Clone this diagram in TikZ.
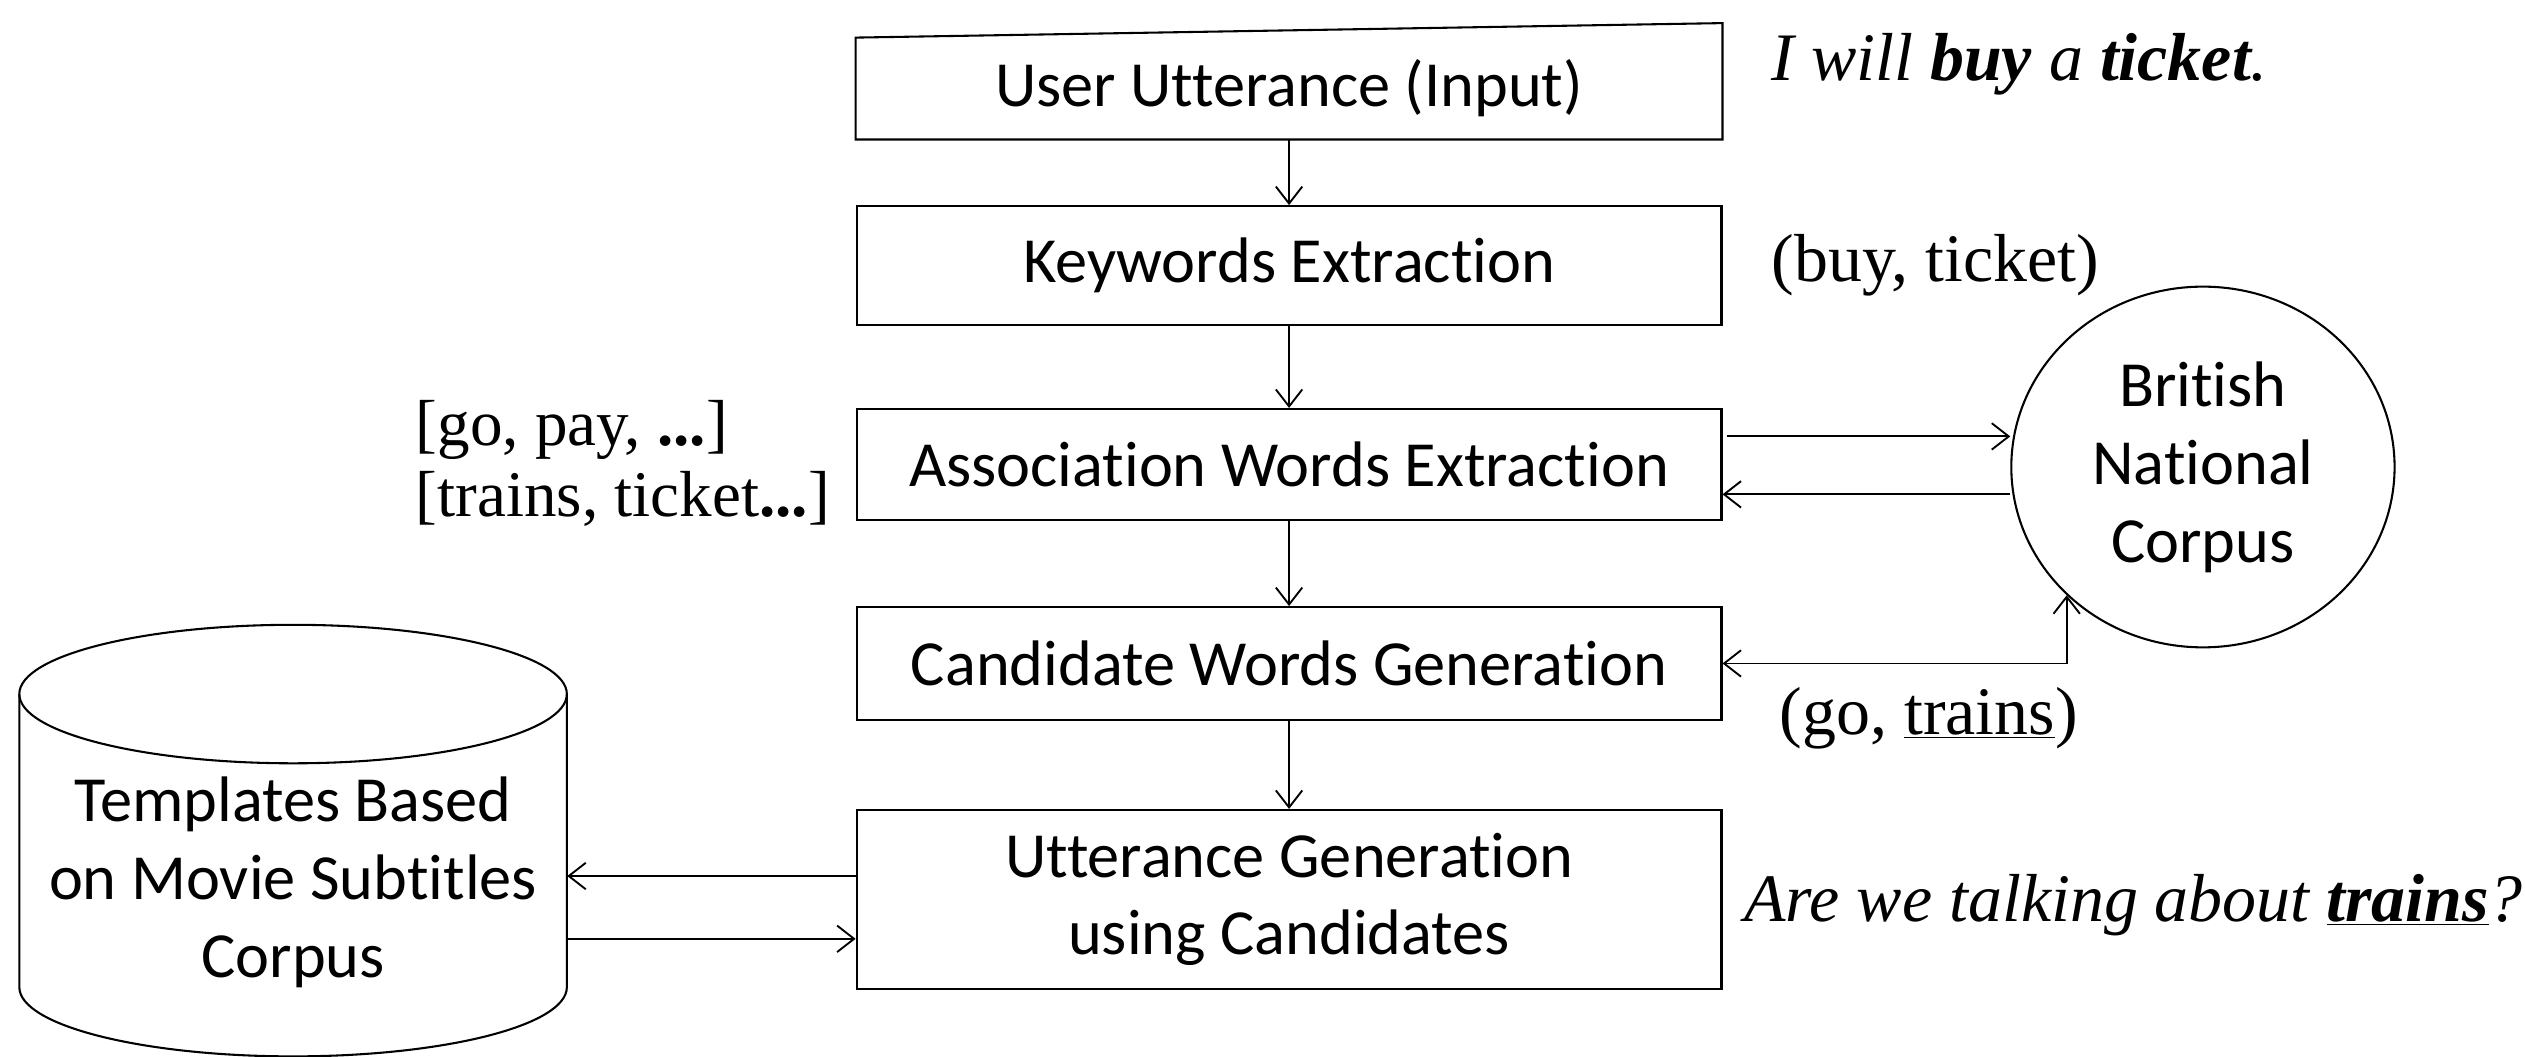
\documentclass[tikz,border=0pt]{standalone}
\usepackage{fontspec}
\setmainfont{Carlito}[Ligatures={NoCommon}]
\newfontfamily\annfont{Liberation Serif}
\usetikzlibrary{arrows.meta,shapes.geometric,calc}

\newcommand\boxfont{\fontsize{34.1}{41.3}\selectfont}
\newcommand\annsize{\annfont\fontsize{36}{37.5}\selectfont}
\newcommand\listsize{\annfont\fontsize{34.5}{37.5}\selectfont}

\tikzset{
  outline/.style={line width=1.1pt},
  flowbox/.style={draw, rectangle, outline, minimum width=16.11cm, inner sep=0pt,
    align=center, font=\boxfont},
  store/.style={draw, ellipse, outline, inner sep=0pt, align=center, font=\boxfont},
  anntext/.style={font=\annsize, inner sep=0pt},
  arr/.style={line width=1pt, -{Straight Barb[length=9pt,width=14pt,line width=1pt]}},
  biarr/.style={line width=1pt, {Straight Barb[length=9pt,width=14pt,line width=1pt]}-{Straight Barb[length=9pt,width=14pt,line width=1pt]}}
}

\begin{document}
\begin{tikzpicture}[x=0.03cm,y=-0.03cm]
\fill[white] (0,0) rectangle (1568,656);
\useasboundingbox (0,0) rectangle (1568,656);

% processing pipeline
\node[flowbox, draw=none, minimum height=1.86cm] (inp) at (800.5,55) {User Utterance (Input)};
\draw[outline] (inp.south west) -- (inp.south east) -- ($(inp.north east)+(0,-9)$)
  -- (inp.north west) -- cycle;
\node[flowbox, minimum height=2.22cm] (kw) at (800.5,165) {Keywords Extraction};
\node[flowbox, minimum height=2.07cm] (assoc) at (800.5,288.5) {Association Words Extraction};
\node[flowbox, minimum height=2.1cm] (cand) at (800.5,412) {Candidate Words Generation};
\node[flowbox, minimum height=3.33cm] (gen) at (800.5,558.5) {Utterance Generation\\using Candidates};

\draw[arr] (inp.south) -- (kw.north);
\draw[arr] (kw.south) -- (assoc.north);
\draw[arr] (assoc.south) -- (cand.north);
\draw[arr] (cand.south) -- (gen.north);

% British National Corpus
\node[store, minimum width=7.14cm, minimum height=6.72cm] (bnc) at (1368,290) {British\\National\\Corpus};
\coordinate (a1) at ($(assoc.east)+(3,-17.5)$);
\coordinate (a2) at ($(assoc.east)+(0,18.5)$);
\draw[arr] (a1) -- (a1 -| bnc.west);
\draw[arr] (a2 -| bnc.west) -- (a2);
\draw[biarr] (bnc.south west) |- (cand.east);

% template database (cylinder)
\node[font=\boxfont, align=center, minimum width=10.2cm, inner sep=0pt] (tpl) at (182,548)
  {Templates Based\\on Movie Subtitles\\Corpus};
\coordinate (cyltop) at (182,431);
\coordinate (cylbot) at (182,613);
\draw[outline] (cyltop) ellipse [x radius=5.1cm, y radius=1.29cm];
\draw[outline] ($(cyltop)+(-170,0)$) -- ($(cylbot)+(-170,0)$)
  arc[start angle=180, end angle=360, x radius=5.1cm, y radius=1.29cm]
  -- ($(cyltop)+(170,0)$);
\coordinate (t1) at ($(gen.west)+(0,-14.5)$);
\coordinate (t2) at ($(gen.west)+(0,24.5)$);
\draw[arr] (t1) -- (t1 -| tpl.east);
\draw[arr] (t2 -| tpl.east) -- (t2);

% worked example
\node[anntext, anchor=base west] (ex1) at (1100,50) {\textit{I will \textbf{buy} a \textbf{ticket}.}};
\node[anntext, anchor=base west] (ex2) at (1100,175) {(buy, ticket)};
\node[anntext, font=\listsize, anchor=west, align=left] (ex3) at (258,288)
  {[go, pay, \textbf{...}]\\{}[trains, ticket\textbf{...}]};
\node[anntext, anchor=base west] (ex4) at (1105,456) {(go, \underline{trains})};
\node[anntext, anchor=base west] (ex5) at (1083,572) {\textit{Are we talking about \underline{\textbf{trains}}?}};
\end{tikzpicture}
\end{document}
